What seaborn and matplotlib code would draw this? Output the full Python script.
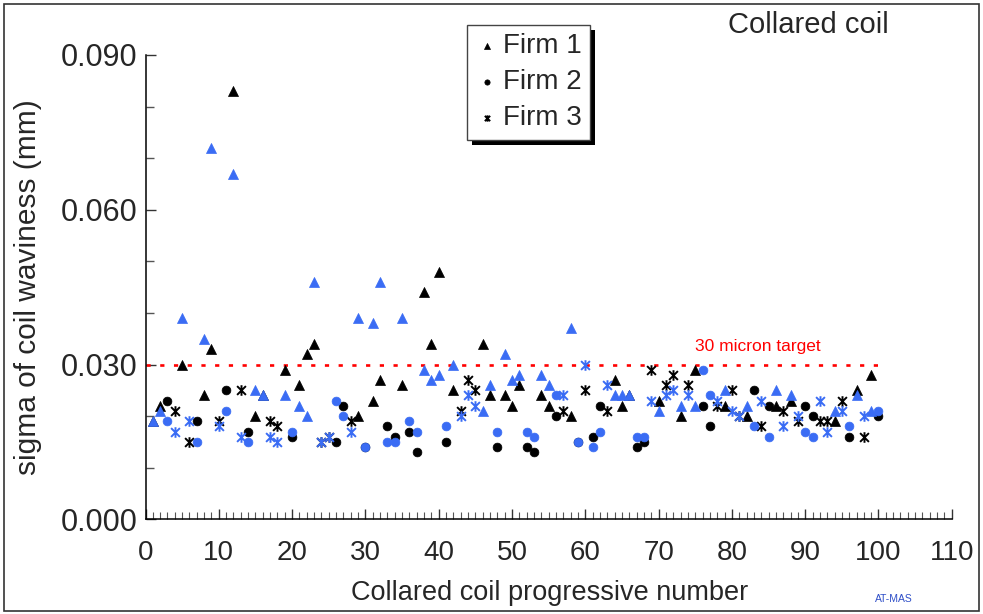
import numpy as np
import pandas as pd
import matplotlib
matplotlib.use("Agg")
import matplotlib.pyplot as plt
import seaborn as sns
from matplotlib.path import Path
from matplotlib.patches import Rectangle
from matplotlib.ticker import MultipleLocator, FixedLocator

# ---------------- data ----------------
firm1_coil = [1, 2, 5, 8, 9, 12, 15, 16, 19, 21, 22, 23, 29, 31, 32, 35, 38, 39, 40, 42,
              46, 47, 49, 50, 51, 54, 55, 58, 64, 65, 66, 70, 73, 75, 79, 82, 86, 88, 94, 97, 99]
firm1_black = [0.019, 0.022, 0.030, 0.024, 0.033, 0.083, 0.020, 0.024, 0.029, 0.026, 0.032, 0.034,
               0.020, 0.023, 0.027, 0.026, 0.044, 0.034, 0.048, 0.025, 0.034, 0.024, 0.024, 0.022,
               0.026, 0.024, 0.022, 0.020, 0.027, 0.022, 0.024, 0.023, 0.020, 0.029, 0.022, 0.020,
               0.022, 0.023, 0.019, 0.025, 0.028]
firm1_blue = [0.019, 0.021, 0.039, 0.035, 0.072, 0.067, 0.025, 0.024, 0.024, 0.022, 0.020, 0.046,
              0.039, 0.038, 0.046, 0.039, 0.029, 0.027, 0.028, 0.030, 0.021, 0.026, 0.032, 0.027,
              0.028, 0.028, 0.026, 0.037, 0.024, 0.024, 0.024, 0.021, 0.022, 0.022, 0.025, 0.022,
              0.025, 0.024, 0.021, 0.024, 0.021]

firm2_coil = [3, 7, 11, 14, 20, 26, 27, 30, 33, 34, 36, 37, 41, 48, 52, 53, 56, 59, 61, 62,
              67, 68, 76, 77, 83, 85, 90, 91, 96, 100]
firm2_black = [0.023, 0.019, 0.025, 0.017, 0.016, 0.015, 0.022, 0.014, 0.018, 0.016, 0.017, 0.013,
               0.015, 0.014, 0.014, 0.013, 0.020, 0.015, 0.016, 0.022, 0.014, 0.015, 0.022, 0.018,
               0.025, 0.022, 0.022, 0.020, 0.016, 0.020]
firm2_blue = [0.019, 0.015, 0.021, 0.015, 0.017, 0.023, 0.020, 0.014, 0.015, 0.015, 0.019, 0.017,
              0.018, 0.017, 0.017, 0.016, 0.024, 0.015, 0.014, 0.017, 0.016, 0.016, 0.029, 0.024,
              0.018, 0.016, 0.017, 0.016, 0.018, 0.021]

firm3_coil = [4, 6, 10, 13, 17, 18, 24, 25, 28, 43, 44, 45, 57, 60, 63, 69, 71, 72, 74, 78,
              80, 81, 84, 87, 89, 92, 93, 95, 98]
firm3_black = [0.021, 0.015, 0.019, 0.025, 0.019, 0.018, 0.015, 0.016, 0.019, 0.021, 0.027, 0.025,
               0.021, 0.025, 0.021, 0.029, 0.026, 0.028, 0.026, 0.022, 0.025, 0.020, 0.018, 0.021,
               0.019, 0.019, 0.019, 0.023, 0.016]
firm3_blue = [0.017, 0.019, 0.018, 0.016, 0.016, 0.015, 0.015, 0.016, 0.017, 0.020, 0.024, 0.022,
              0.024, 0.030, 0.026, 0.023, 0.024, 0.025, 0.024, 0.023, 0.021, 0.020, 0.023, 0.018,
              0.020, 0.023, 0.017, 0.021, 0.020]

firm_labels = ["Firm 1", "Firm 2", "Firm 3"]
target_x = [0, 100]
target_y = [0.030, 0.030]
xticks = [0, 10, 20, 30, 40, 50, 60, 70, 80, 90, 100, 110]
yticks = [0.000, 0.030, 0.060, 0.090]

# ---------------- style ----------------
sns.set_theme(style="white")
plt.rcParams["font.family"] = ["Liberation Sans", "DejaVu Sans"]

BLACK = "#000000"
BLUE = "#3a6cf4"

W, H = 983, 614
fig = plt.figure(figsize=(W / 100, H / 100), dpi=100)
fig.patch.set_facecolor("white")

x0_px, x_per = 145.5, 7.33
y0_px, y_top_px = 519.3, 55.0
ax = fig.add_axes([x0_px / W, 1 - y0_px / H, 110 * x_per / W, (y0_px - y_top_px) / H])
ax.set_facecolor("none")

# asterisk marker (X plus vertical bar)
ast = Path([(-1, -1), (1, 1), (-1, 1), (1, -1), (0, -1.2), (0, 1.2)],
           [Path.MOVETO, Path.LINETO, Path.MOVETO, Path.LINETO, Path.MOVETO, Path.LINETO])

# target line
sns.lineplot(x=target_x, y=target_y, ax=ax, color="#ff0000", linewidth=1.9,
             dashes=False, zorder=1)
ax.lines[-1].set_dashes((1.6, 3.6))
ax.text(75, 0.0334, "30 micron target", color="#ff0000", fontsize=12.5,
        ha="left", va="center")

series = [
    (firm1_coil, firm1_black, "^", 52, BLACK, firm_labels[0], 0.5),
    (firm2_coil, firm2_black, "o", 40, BLACK, firm_labels[1], 0.5),
    (firm3_coil, firm3_black, ast, 58, BLACK, firm_labels[2], 1.4),
    (firm1_coil, firm1_blue, "^", 52, BLUE, None, 0.5),
    (firm2_coil, firm2_blue, "o", 40, BLUE, None, 0.5),
    (firm3_coil, firm3_blue, ast, 58, BLUE, None, 1.4),
]
for i, (xs, ys, mk, s, col, lab, lw) in enumerate(series):
    kw = dict(label=lab) if lab else {}
    sns.scatterplot(x=xs, y=ys, marker=mk, s=s, color=col, edgecolor=col,
                    linewidth=lw, ax=ax, zorder=3 + i, legend=False, **kw)

# axes
ax.set_xlim(0, 110)
ax.set_ylim(0, 0.090)
ax.xaxis.set_major_locator(FixedLocator(xticks))
ax.xaxis.set_minor_locator(MultipleLocator(1))
ax.yaxis.set_major_locator(FixedLocator(yticks))
ax.yaxis.set_minor_locator(MultipleLocator(0.010))
ax.set_yticklabels([f"{v:.3f}" for v in yticks])
ax.set_xticklabels([str(v) for v in xticks])
for sp in ["top", "right"]:
    ax.spines[sp].set_visible(False)
for sp in ["left", "bottom"]:
    ax.spines[sp].set_color("black")
    ax.spines[sp].set_linewidth(1.1)
ax.tick_params(axis="y", which="major", direction="in", length=7, width=1, color="#333333",
               labelsize=22, pad=6, left=True)
ax.tick_params(axis="y", which="minor", direction="in", length=6, width=1, color="#555555", left=True)
ax.tick_params(axis="x", which="major", direction="in", length=7, width=1, color="#333333",
               labelsize=20, pad=15, bottom=True)
ax.tick_params(axis="x", which="minor", direction="in", length=5, width=0.8, color="#555555", bottom=True)

ax.set_xlabel("Collared coil progressive number", fontsize=19.5, va="center", ha="center")
ax.xaxis.set_label_coords((550 - x0_px) / (110 * x_per), (y0_px - 593) / (y0_px - y_top_px))
ax.set_ylabel("sigma of coil waviness (mm)", fontsize=21.5, va="center", ha="center")
ax.yaxis.set_label_coords((28 - x0_px) / (110 * x_per), (y0_px - 287) / (y0_px - y_top_px))

# title and footer
fig.text(808 / W, 1 - 25 / H, "Collared coil", fontsize=21, ha="center", va="center")
fig.text(894 / W, 1 - 599 / H, "AT-MAS", fontsize=7.5, ha="center", va="center", color="#2f4fc8")

# legend
handles, labels = ax.get_legend_handles_labels()
leg = fig.legend(handles, labels, loc="upper left", bbox_to_anchor=(467 / W, 1 - 25 / H),
                 bbox_transform=fig.transFigure, fontsize=20, frameon=True, fancybox=False,
                 markerscale=0.6, handlelength=0.85, handletextpad=0.15, borderpad=0.3,
                 labelspacing=0.36, borderaxespad=0)
leg.get_frame().set_edgecolor("#444444")
leg.get_frame().set_linewidth(1.0)
leg.get_frame().set_facecolor("white")
leg.get_frame().set_alpha(1)
leg.set_zorder(10)

fig.canvas.draw()
bb = leg.get_window_extent()
off = 5
fig.patches.append(Rectangle(((bb.x0 + off) / W, (bb.y0 - off) / H), bb.width / W, bb.height / H,
                             transform=fig.transFigure, facecolor="black", edgecolor="none",
                             zorder=9))
# outer frame
fig.patches.append(Rectangle((4 / W, 3 / H), 975 / W, 607 / H, transform=fig.transFigure,
                             fill=False, edgecolor="#333333", linewidth=1.2, zorder=0))

fig.savefig("out.png", dpi=100)
